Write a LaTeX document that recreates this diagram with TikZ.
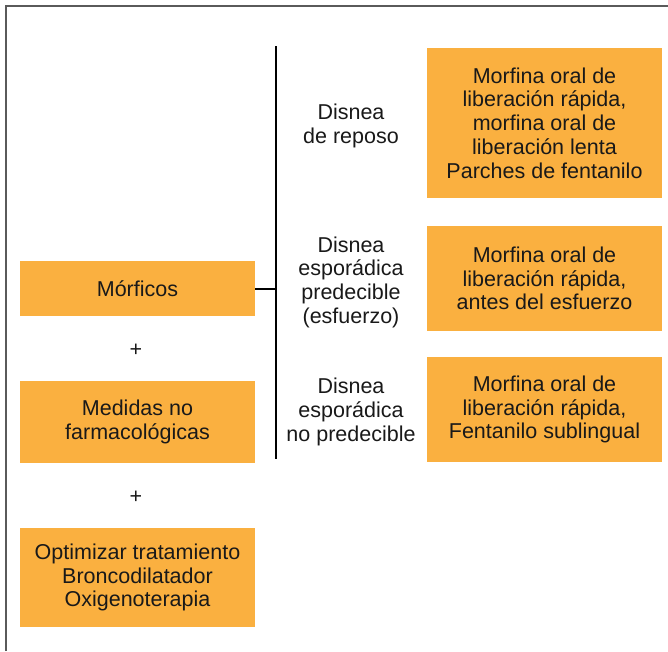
\documentclass[tikz,border=0pt]{standalone}
\usepackage{fontspec}
\setmainfont{Liberation Sans}
\usepackage{tikz}
\usetikzlibrary{positioning}

\definecolor{naranja}{RGB}{250,176,64}
\definecolor{marco}{RGB}{90,90,90}
\definecolor{texto}{RGB}{25,25,25}

\tikzset{
  caja/.style={fill=naranja, text=texto, align=center, minimum width=235pt,
    inner sep=0pt, font=\fontsize{21.5}{23.7}\selectfont},
  etiqueta/.style={text=texto, align=center, inner sep=0pt,
    font=\fontsize{21.5}{23.7}\selectfont},
  mas/.style={text=texto, inner sep=0pt, font=\fontsize{21.5}{23.7}\selectfont}
}

\begin{document}
\begin{tikzpicture}[x=1pt, y=-1pt]

\useasboundingbox (0,0) rectangle (668,651);
\draw[marco, line width=1.5pt] (6,651) -- (6,6) -- (668,6);

% columna izquierda
\node[caja, minimum height=55pt] (morficos) at (137.5,288.5) {Mórficos};
\node[mas] (mas1) at (136,350) {+};
\node[caja, minimum height=82pt] (medidas) at (137.5,422) {Medidas no\\farmacológicas};
\node[mas] (mas2) at (136,497) {+};
\node[caja, minimum height=99pt] (optimizar) at (137.5,577.5) {Optimizar tratamiento\\Broncodilatador\\Oxigenoterapia};

% llave
\coordinate (arriba) at (276,46);
\coordinate (abajo) at (276,459);
\draw[line width=2pt] (arriba) -- (abajo);
\draw[line width=2pt] (morficos.east) -- (morficos.east -| arriba);

% tipos de disnea
\node[etiqueta] (reposo) at (351,126) {Disnea\\de reposo};
\node[etiqueta] (predecible) at (351,282) {Disnea\\esporádica\\predecible\\(esfuerzo)};
\node[etiqueta] (nopredecible) at (351,412) {Disnea\\esporádica\\no predecible};

% tratamientos
\node[caja, minimum height=150pt] (trat1) at (544.5,123) {Morfina oral de\\liberación rápida,\\morfina oral de\\liberación lenta\\Parches de fentanilo};
\node[caja, minimum height=105pt] (trat2) at (544.5,278.5) {Morfina oral de\\liberación rápida,\\antes del esfuerzo};
\node[caja, minimum height=105pt] (trat3) at (544.5,409.5) {Morfina oral de\\liberación rápida,\\Fentanilo sublingual};

\end{tikzpicture}
\end{document}
